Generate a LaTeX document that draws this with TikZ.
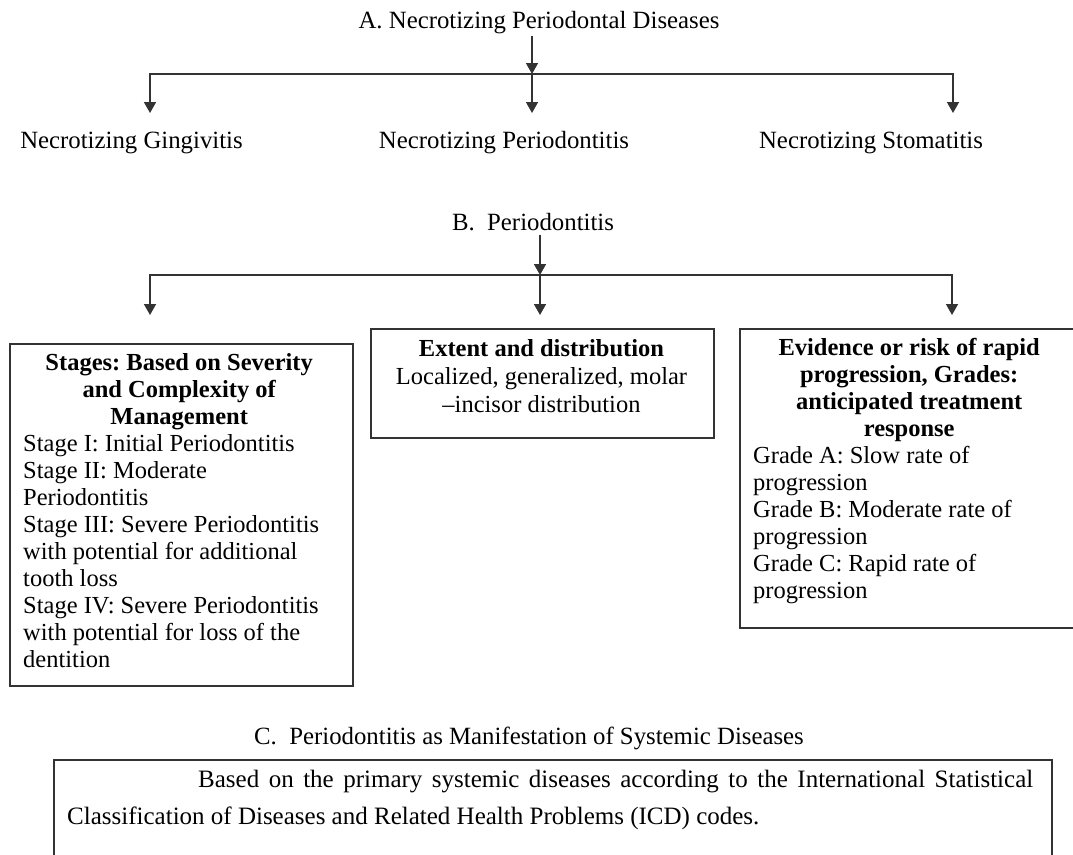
\documentclass[tikz,border=0pt]{standalone}
\usepackage{fontspec}
\setmainfont{Liberation Serif}
\usetikzlibrary{arrows.meta}
\newcommand{\resetsp}{\spaceskip=0pt\xspaceskip=0pt\frenchspacing}
\tikzset{
  conn/.style={draw=black!80, line width=1.6pt},
  arr/.style={conn, -{Triangle[width=12pt,length=11pt]}},
  boxframe/.style={draw=black!80, line width=1.6pt, inner sep=0pt, anchor=north west},
  lbl/.style={inner sep=0pt, anchor=base, font=\fontsize{24.8}{27}\selectfont\frenchspacing},
  boxtext/.style={inner sep=0pt, anchor=north west, text width=312pt, font=\fontsize{24.5}{27}\selectfont},
}
\begin{document}
\begin{tikzpicture}[x=1pt,y=-1pt]
\useasboundingbox (0,0) rectangle (1073,854);
\clip (0,0) rectangle (1073,854);

% ---------- A ----------
\node[lbl] (A) at (539,28) {A. Necrotizing Periodontal Diseases};
\coordinate (jA) at (532,74);
\coordinate (tA1) at (150,113);
\coordinate (tA2) at (532,113);
\coordinate (tA3) at (953,113);
\draw[arr] ([yshift=-2pt]A.south -| jA) -- (jA);
\draw[arr] (jA) -| (tA1);
\draw[arr] (jA) -| (tA3);
\draw[arr] (jA) -- (tA2);
\node[lbl] (NG) at (131.5,148) {Necrotizing Gingivitis};
\node[lbl] (NP) at (504,148) {Necrotizing Periodontitis};
\node[lbl] (NS) at (871,148) {Necrotizing Stomatitis};

% ---------- B ----------
\node[lbl] (B) at (533,230) {B.\ \ Periodontitis};
\coordinate (jB) at (540,275);
\coordinate (tB1) at (150,315);
\coordinate (tB2) at (540,315);
\coordinate (tB3) at (952,315);
\draw[arr] ([yshift=-4pt]B.south -| jB) -- (jB);
\draw[arr] (jB) -| (tB1);
\draw[arr] (jB) -| (tB3);
\draw[arr] (jB) -- (tB2);

\node[boxframe, minimum width=343pt, minimum height=342pt] (stages) at (9,343) {};
\node[boxtext] (stagesT) at (23,350) {\resetsp\setlength\parindent{0pt}%
  {\centering\bfseries\rule{0pt}{20pt}Stages: Based on Severity\\ and Complexity of\\ Management\par}%
  \raggedright\resetsp
  Stage I: Initial Periodontitis\\
  Stage II: Moderate\\
  Periodontitis\\
  Stage III: Severe Periodontitis\\
  with potential for additional\\
  tooth loss\\
  Stage IV: Severe Periodontitis\\
  with potential for loss of the\\
  dentition\par};

\node[boxframe, minimum width=343pt, minimum height=109pt] (extent) at (370,328) {};
\node[inner sep=0pt, anchor=north, text width=343pt,
      font=\fontsize{24.5}{28}\selectfont] (extentT) at (541.5,336)
  {\setlength\parindent{0pt}\centering\resetsp\rule{0pt}{20pt}\textbf{Extent and distribution}\\
   Localized, generalized, molar\\
   --incisor distribution\par};

\node[boxframe, minimum width=340pt, minimum height=299pt] (grades) at (739,328) {};
\node[boxtext] (gradesT) at (753,335) {\resetsp\setlength\parindent{0pt}%
  {\centering\bfseries\rule{0pt}{20pt}Evidence or risk of rapid\\ progression, Grades:\\ anticipated treatment\\ response\par}%
  \raggedright\resetsp
  Grade A: Slow rate of\\
  progression\\
  Grade B: Moderate rate of\\
  progression\\
  Grade C: Rapid rate of\\
  progression\par};

% ---------- C ----------
\node[lbl] (C) at (529,744) {C.\ \ Periodontitis as Manifestation of Systemic Diseases};
\node[boxframe, minimum width=998pt, minimum height=150pt] (sys) at (53,759) {};
\node[inner sep=0pt, anchor=north west, text width=966pt, align=left,
      font=\fontsize{25}{37}\selectfont] (sysT) at (67,767)
  {\resetsp\rule{0pt}{20pt}\hspace*{131pt}\makebox[835pt][s]{Based on the primary systemic diseases according to the International Statistical}\\
   Classification of Diseases and Related Health Problems (ICD) codes.};
\end{tikzpicture}
\end{document}
